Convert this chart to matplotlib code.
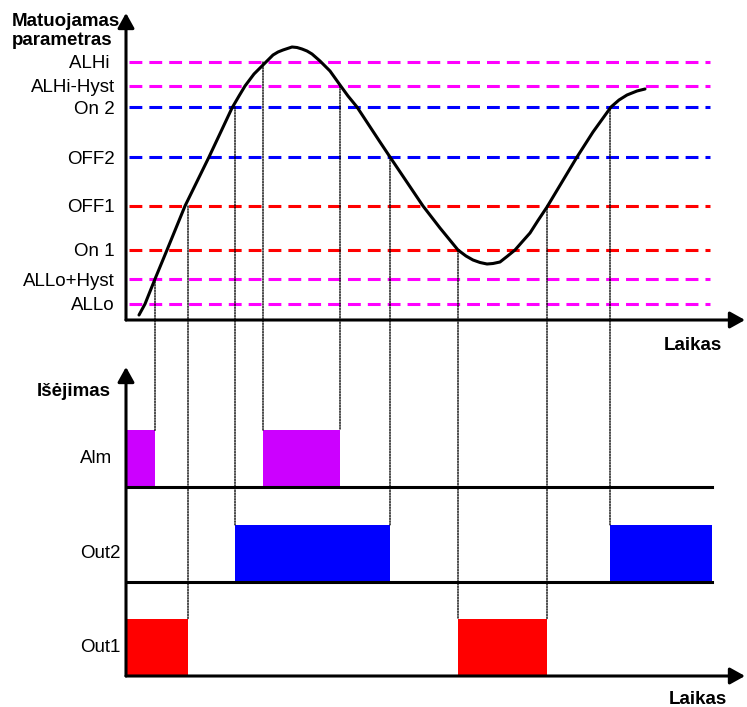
import matplotlib.pyplot as plt
from matplotlib.patches import ConnectionPatch

plt.rcParams['font.family'] = ['Liberation Sans', 'DejaVu Sans']

# threshold levels of the measured value
level_names = ['ALLo', 'ALLo+Hyst', 'On 1', 'OFF1', 'OFF2', 'On 2', 'ALHi-Hyst', 'ALHi ']
level_values = [16, 41, 70, 114, 163, 213, 234, 258]
level_colors = ['#ff00ff', '#ff00ff', '#ff0000', '#ff0000',
                '#0000ff', '#0000ff', '#ff00ff', '#ff00ff']

curve_t = [13, 19, 29, 41, 59, 83, 95, 106, 113, 119, 128, 137, 147, 152, 157,
           166, 171, 176, 181, 186, 194, 204, 214, 222, 231, 254, 264, 297, 314,
           332, 340, 347, 354, 361, 367, 374, 381, 389, 396, 404, 412, 421, 451,
           467, 485, 493, 501, 511, 519]
curve_v = [5, 16, 41, 70, 114, 163, 188.5, 212, 224, 234, 246, 255, 265, 268, 270,
           273, 272.5, 271, 269, 266, 259, 249, 235, 224, 213, 178, 163, 114, 92,
           70, 64, 60, 57.5, 56, 56.5, 58, 63.5, 70, 78, 87, 99.5, 113, 163,
           188, 213, 220, 225, 229, 231]

# switching events: time, threshold index, output row
event_t = [29, 62, 109, 137, 214, 264, 332, 421, 484]
event_level = [1, 3, 5, 7, 6, 4, 2, 3, 5]
event_row = [2, 0, 1, 2, 2, 1, 0, 0, 1]

# outputs
row_names = ['Out1', 'Out2', 'Alm']
row_colors = ['#ff0000', '#0000ff', '#cc00ff']
on_intervals = [[(0, 62), (332, 421)],
                [(109, 264), (484, 586)],
                [(0, 29), (137, 214)]]
bar_h = 0.6
t_end = 586

W, H = 747, 707
fig = plt.figure(figsize=(W / 100, H / 100), dpi=100)


def box(x0, y0, x1, y1):
    return [x0 / W, 1 - y1 / H, (x1 - x0) / W, (y1 - y0) / H]


def arrow_axes(ax):
    for s in ax.spines.values():
        s.set_visible(False)
    style = '-|>,head_length=0.9,head_width=0.5'
    for tip in [(1, 0), (0, 1)]:
        ax.annotate('', xy=tip, xytext=(0, 0), xycoords='axes fraction',
                    arrowprops=dict(arrowstyle=style, lw=2.2, color='k',
                                    shrinkA=0, shrinkB=0, mutation_scale=10))


ax1 = fig.add_axes(box(126, 13, 745, 320))
ax2 = fig.add_axes(box(126, 367, 745, 676))

# top: measured value
ax1.set_xlim(0, 619)
ax1.set_ylim(0, 307)
arrow_axes(ax1)
for v, c in zip(level_values, level_colors):
    ax1.plot([3, 584], [v, v], color=c, lw=2.2, dashes=(4.2, 2.3), zorder=2)
ax1.plot(curve_t, curve_v, color='k', lw=2.2, solid_joinstyle='round',
         solid_capstyle='round', zorder=4)
ax1.set_xticks([])
ax1.set_yticks(level_values, level_names, fontsize=13.5)
ax1.tick_params(axis='y', length=0, pad=8)

# bottom: outputs
ax2.set_xlim(0, 619)
ax2.set_ylim(0, 3.27)
arrow_axes(ax2)
ax2.set_xticks([])
ax2.set_yticks([])
for row, (name, col, iv) in enumerate(zip(row_names, row_colors, on_intervals)):
    ax2.broken_barh([(a, b - a) for a, b in iv], (row, bar_h), facecolors=col, zorder=2)
    if row > 0:
        ax2.plot([0, t_end], [row, row], color='k', lw=2.2, zorder=3)
    ax2.text(-46, row + bar_h / 2, name, ha='left', va='center', fontsize=13.5)

# dotted guide lines from threshold crossing down to output edge
for t, li, row in zip(event_t, event_level, event_row):
    con = ConnectionPatch(xyA=(t, level_values[li]), coordsA=ax1.transData,
                          xyB=(t, row + bar_h), coordsB=ax2.transData,
                          color='k', lw=1.0, linestyle=(0, (1, 1)))
    fig.add_artist(con)

fig.text(12 / W, 1 - 31 / H, 'Matuojamas\nparametras', fontsize=13.5,
         weight='bold', ha='left', va='center', linespacing=1.1)
fig.text(37 / W, 1 - 391 / H, 'Išėjimas', fontsize=13.5, weight='bold',
         ha='left', va='center')
fig.text(722 / W, 1 - 346 / H, 'Laikas', fontsize=13.5, weight='bold',
         ha='right', va='center')
fig.text(727 / W, 1 - 699 / H, 'Laikas', fontsize=13.5, weight='bold',
         ha='right', va='center')

fig.savefig('out.png', dpi=100)
